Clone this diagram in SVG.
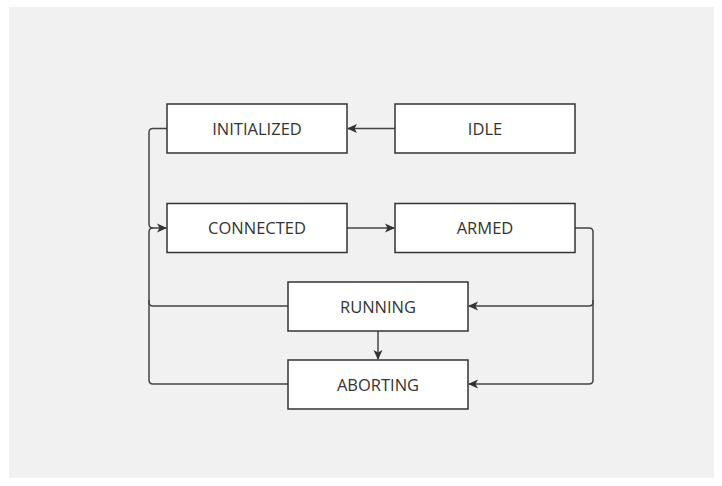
<svg xmlns="http://www.w3.org/2000/svg" width="722" height="486" viewBox="0 0 722 486">
  <style>
    .node rect { fill: #ffffff; stroke: #333333; stroke-width: 1.5; }
    .node text { font-family: "Open Sans", "Liberation Sans", sans-serif; font-size: 16.5px; fill: #333333; text-anchor: middle; }
    .edge { fill: none; stroke: #444444; stroke-width: 1.5; }
  </style>
  <defs>
    <marker id="arrow" viewBox="0 0 10 10" refX="9" refY="5" markerWidth="10" markerHeight="10" markerUnits="userSpaceOnUse" orient="auto">
      <path d="M0,0.5 L10,5 L0,9.5 L2.5,5 z" fill="#333333"/>
    </marker>
  </defs>

  <!-- canvas -->
  <rect x="9" y="7" width="705" height="471" fill="#f1f1f1"/>

  <!-- connectors -->
  <g id="connectors">
    <path class="edge" d="M395,128.5 H348" marker-end="url(#arrow)"/>
    <path class="edge" d="M167,128.5 H153 Q149,128.5 149,132.5 V224 Q149,228 153,228 H166" marker-end="url(#arrow)"/>
    <path class="edge" d="M347,228 H394" marker-end="url(#arrow)"/>
    <path class="edge" d="M575,228 H589 Q593,228 593,232 V302 Q593,306 589,306 H469" marker-end="url(#arrow)"/>
    <path class="edge" d="M593,300 V380 Q593,384 589,384 H469" marker-end="url(#arrow)"/>
    <path class="edge" d="M288,306 H153 Q149,306 149,302 V232 Q149,228 153,228"/>
    <path class="edge" d="M288,384 H153 Q149,384 149,380 V300"/>
    <path class="edge" d="M378,331 V359" marker-end="url(#arrow)"/>
  </g>

  <!-- states -->
  <g id="initialized" class="node">
    <rect x="167" y="104" width="180" height="49"/>
    <text x="257" y="134.5">INITIALIZED</text>
  </g>
  <g id="idle" class="node">
    <rect x="395" y="104" width="180" height="49"/>
    <text x="485" y="134.5">IDLE</text>
  </g>
  <g id="connected" class="node">
    <rect x="167" y="203.5" width="180" height="49"/>
    <text x="257" y="234">CONNECTED</text>
  </g>
  <g id="armed" class="node">
    <rect x="395" y="203.5" width="180" height="49"/>
    <text x="485" y="234">ARMED</text>
  </g>
  <g id="running" class="node">
    <rect x="288" y="282" width="180" height="49"/>
    <text x="378" y="312.5">RUNNING</text>
  </g>
  <g id="aborting" class="node">
    <rect x="288" y="360" width="180" height="49"/>
    <text x="378" y="390.5">ABORTING</text>
  </g>
</svg>
